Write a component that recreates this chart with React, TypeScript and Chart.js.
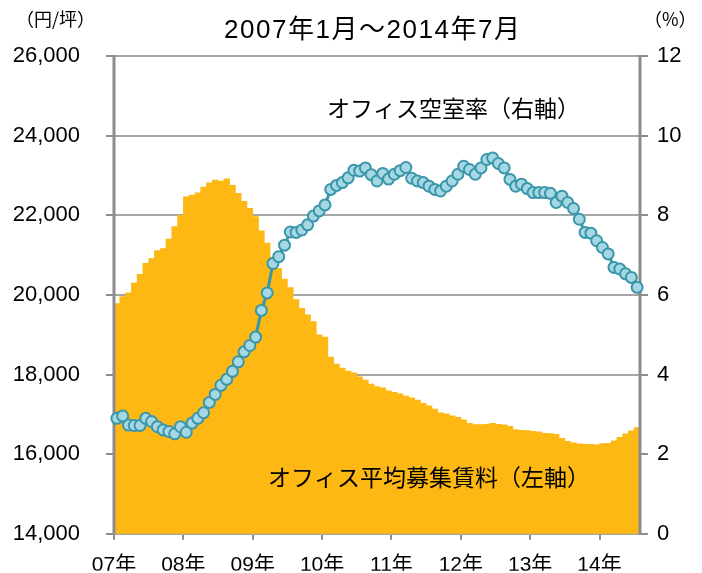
import React, { useEffect, useRef } from 'react';
import { Chart, registerables } from 'chart.js';

Chart.register(...registerables);

// Categories: monthly, 2007-01 .. 2014-07
const monthCategories: string[] = Array.from({ length: 91 }, (_, i) => `${2007 + Math.floor(i / 12)}/${(i % 12) + 1}`);

const yearTickLabels = ['07年', '08年', '09年', '10年', '11年', '12年', '13年', '14年'];

// オフィス平均募集賃料 (円/坪), left axis
const rentValues = [
  19780, 19960, 20050, 20300, 20515, 20790, 20915, 21115, 21165, 21400, 21715, 22000,
  22460, 22510, 22565, 22710, 22815, 22885, 22860, 22915, 22750, 22550, 22350, 22175,
  21965, 21610, 21300, 20950, 20665, 20400, 20185, 19885, 19665, 19500, 19330, 19000,
  18940, 18440, 18260, 18165, 18085, 18040, 17940, 17860, 17760, 17700, 17665, 17590,
  17550, 17515, 17460, 17415, 17360, 17275, 17215, 17135, 17040, 17010, 16965, 16925,
  16865, 16775, 16740, 16740, 16750, 16775, 16750, 16735, 16700, 16615, 16600, 16590,
  16575, 16560, 16525, 16515, 16500, 16400, 16325, 16285, 16260, 16250, 16250, 16235,
  16265, 16275, 16335, 16425, 16510, 16585, 16665,
];

// オフィス空室率 (%), right axis
const vacancyValues = [
  2.90, 2.96, 2.73, 2.72, 2.72, 2.90, 2.82, 2.69, 2.61, 2.57, 2.51, 2.69,
  2.55, 2.78, 2.90, 3.04, 3.30, 3.50, 3.73, 3.88, 4.08, 4.32, 4.57, 4.73,
  4.94, 5.61, 6.05, 6.79, 6.96, 7.25, 7.58, 7.57, 7.63, 7.76, 7.98, 8.11,
  8.26, 8.65, 8.75, 8.82, 8.94, 9.13, 9.11, 9.19, 9.02, 8.86, 9.05, 8.91,
  9.03, 9.12, 9.20, 8.93, 8.86, 8.82, 8.73, 8.65, 8.61, 8.73, 8.86, 9.03,
  9.23, 9.15, 9.03, 9.19, 9.40, 9.44, 9.30, 9.19, 8.90, 8.73, 8.78, 8.67,
  8.57, 8.57, 8.57, 8.55, 8.32, 8.48, 8.32, 8.17, 7.90, 7.57, 7.55, 7.36,
  7.19, 7.03, 6.69, 6.65, 6.53, 6.44, 6.19,
];

const TITLE = '2007年1月～2014年7月';
const LEFT_UNIT = '（円/坪）';
const RIGHT_UNIT = '（%）';
const VACANCY_NOTE = 'オフィス空室率（右軸）';
const RENT_NOTE = 'オフィス平均募集賃料（左軸）';

const NUM_FONT = '"Liberation Sans", Arial, "Noto Sans CJK JP", sans-serif';
const JP_FONT = '"Noto Sans CJK JP", "Liberation Sans", sans-serif';
const AXIS_GRAY = '#8C8C8C';
const GRID_GRAY = '#A6A6A6';

const textPlugin = {
  id: 'textPlugin',
  afterDatasetDraw(chart: any, args: any) {
    if (args.index !== 0) return;
    const { ctx, chartArea } = chart;
    ctx.save();
    ctx.strokeStyle = AXIS_GRAY;
    ctx.lineWidth = 3;
    ctx.beginPath();
    ctx.moveTo(chartArea.left, chartArea.top - 1);
    ctx.lineTo(chartArea.left, chartArea.bottom + 1);
    ctx.moveTo(chartArea.right, chartArea.top - 1);
    ctx.lineTo(chartArea.right, chartArea.bottom + 1);
    ctx.stroke();
    ctx.restore();
  },
  afterDraw(chart: any) {
    const { ctx } = chart;
    ctx.save();
    ctx.fillStyle = '#000';
    ctx.textBaseline = 'middle';
    ctx.textAlign = 'left';
    ctx.font = `18px ${JP_FONT}`;
    ctx.fillText(LEFT_UNIT, 16, 19);
    ctx.fillText(RIGHT_UNIT, 644, 19);
    // title, spread to the reference width
    ctx.font = `26px ${NUM_FONT}`;
    const chars = Array.from(TITLE);
    const targetW = 296;
    const baseW = ctx.measureText(TITLE).width;
    const extra = (targetW - baseW) / (chars.length - 1);
    let x = 224;
    for (const c of chars) {
      ctx.fillText(c, x, 31);
      x += ctx.measureText(c).width + extra;
    }
    ctx.font = `23px ${JP_FONT}`;
    ctx.fillText(VACANCY_NOTE, 327, 108);
    ctx.fillText(RENT_NOTE, 268, 477);
    ctx.restore();
  },
};

export default function App() {
  const canvasRef = useRef<HTMLCanvasElement | null>(null);

  useEffect(() => {
    document.body.style.margin = '0';
    const canvas = canvasRef.current;
    if (!canvas) return;
    const chart = new Chart(canvas, {
      type: 'bar',
      data: {
        labels: monthCategories,
        datasets: [
          {
            type: 'bar',
            label: 'オフィス平均募集賃料',
            data: rentValues,
            backgroundColor: '#FDB813',
            borderWidth: 0,
            categoryPercentage: 1,
            barPercentage: 1,
            xAxisID: 'x',
            yAxisID: 'y',
            order: 2,
          } as any,
          {
            type: 'line',
            label: 'オフィス空室率',
            data: vacancyValues,
            borderColor: '#3A96AA',
            borderWidth: 3,
            pointRadius: 5.5,
            pointBorderWidth: 2,
            pointBackgroundColor: '#A6D8E3',
            pointBorderColor: '#3A96AA',
            tension: 0,
            xAxisID: 'x',
            yAxisID: 'y1',
            order: 1,
            clip: false,
          } as any,
        ],
      },
      options: {
        responsive: false,
        animation: false,
        layout: { padding: { top: 56, left: 0, right: 0, bottom: 0 } },
        plugins: {
          legend: { display: false },
          tooltip: { enabled: false },
          title: { display: false },
        },
        scales: {
          x: {
            type: 'category',
            display: false,
            offset: true,
          },
          xYear: {
            type: 'linear',
            position: 'bottom',
            offset: false,
            min: 0,
            max: monthCategories.length,
            afterBuildTicks: (s: any) => {
              s.ticks = yearTickLabels.map((_, k) => ({ value: k * 12 }));
            },
            afterFit: (s: any) => {
              s.height = 37;
            },
            ticks: {
              autoSkip: false,
              maxRotation: 0,
              minRotation: 0,
              color: '#000',
              padding: 13,
              font: { size: 21, family: NUM_FONT },
              callback: (v: any) => yearTickLabels[Math.round(Number(v) / 12)] ?? '',
            },
            grid: {
              offset: false,
              drawOnChartArea: false,
              drawTicks: true,
              tickLength: 6,
              color: AXIS_GRAY,
              lineWidth: 2,
            },
            border: { display: false },
          },
          y: {
            type: 'linear',
            position: 'left',
            min: 14000,
            max: 26000,
            afterFit: (s: any) => {
              s.width = 114;
            },
            ticks: {
              stepSize: 2000,
              color: '#000',
              padding: 26,
              font: { size: 22, family: NUM_FONT },
              callback: (v: any) => Number(v).toLocaleString('en-US'),
            },
            grid: {
              color: GRID_GRAY,
              lineWidth: 2,
              tickLength: 8,
              tickColor: AXIS_GRAY,
            },
            border: { display: false },
          },
          y1: {
            type: 'linear',
            position: 'right',
            min: 0,
            max: 12,
            afterFit: (s: any) => {
              s.width = 62;
            },
            ticks: {
              stepSize: 2,
              color: '#000',
              padding: 9,
              font: { size: 22, family: NUM_FONT },
            },
            grid: {
              drawOnChartArea: false,
              tickLength: 8,
              color: AXIS_GRAY,
              lineWidth: 2,
            },
            border: { display: false },
          },
        },
      },
      plugins: [textPlugin],
    });
    return () => chart.destroy();
  }, []);

  return (
    <div style={{ position: 'absolute', left: 0, top: 0, width: 702, height: 573, background: '#fff' }}>
      <canvas ref={canvasRef} width={702} height={573} style={{ width: 702, height: 573, display: 'block' }} />
    </div>
  );
}
